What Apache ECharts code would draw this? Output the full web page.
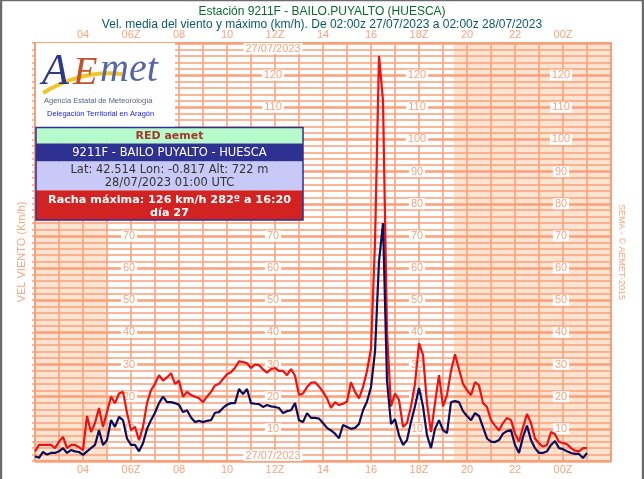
<!DOCTYPE html>
<html>
<head>
<meta charset="utf-8">
<title>Bailo Puyalto - viento</title>
<script src="https://cdn.jsdelivr.net/npm/echarts@6/dist/echarts.min.js"></script>
<style>
  html, body { margin: 0; padding: 0; background: #fff; }
  #chart { width: 644px; height: 479px; }
</style>
</head>
<body>
<div id="chart"></div>
<script>
// 10-minute data from 02:00z 27/07/2023 to 01:00z 28/07/2023 (km/h)
const startHour = 2;
const stepMinutes = 10;

const gustMax = [
  3, 5, 5, 5, 5, 4, 6, 7.5, 4, 5, 5, 4.3, 3.4,
  14, 9, 11.8, 16.5, 10.6, 15.2, 20, 18, 21, 21.5, 15, 9.6, 10.6, 6.5, 10.6,
  18, 22, 24, 26.7, 25, 26, 27.3, 24, 25, 20, 21.5, 20.5, 20, 19.5, 18.3, 20, 21.5, 23.5, 24, 25.5, 27, 27.6, 29,
  31, 30.8, 30.4, 28.9, 30, 29.8, 28.5, 27.5, 28.6, 28.9, 28, 28, 26.7, 28.6, 26.5, 20.5, 21, 23, 24.3, 24.5,
  23.2, 21.5, 19.5, 16.5, 18.3, 17.4, 17.8, 18.5, 24.5, 21.5, 19.5, 23, 28, 35, 68,
  126, 112, 40, 17, 21, 19, 10.6, 11.8, 17, 24, 36.6, 33, 18, 9, 18, 26.7, 17, 20.5, 28, 33.2,
  28.5, 24, 22, 20.5, 24.5, 23.5, 18, 16.8, 12.7, 11, 9.5, 11.8, 13.4, 12.7, 8.5, 6, 10.5, 14.6, 11.8, 7,
  5.5, 4.5, 5, 9, 8.3, 5.9, 5.6, 5.2, 4, 3.2, 3, 4, 4
];

const windMean = [
  1.5, 1, 2.8, 2, 2.5, 2.5, 3, 4, 2.5, 3.4, 3, 2.8, 1.9,
  3, 4, 5, 9.6, 5, 6.5, 12.7, 10.6, 13.7, 12.7, 7, 5, 5, 3, 5.5,
  10, 12.7, 15, 18, 20, 18.3, 18.3, 18, 17.5, 15.2, 15.8, 13.5, 12.1, 12.5, 12.1, 12.5, 12.7, 15, 15.2, 16.5, 17.5, 18, 18,
  22.4, 20.8, 22.4, 18, 17.8, 17.7, 16.8, 17.4, 17, 16.8, 16.5, 14.9, 15.5, 15.8, 18, 12.7, 12.1, 14.9, 13.4, 13.4,
  13.2, 11.8, 10.3, 9.5, 8.5, 7.1, 11.2, 10.6, 10, 10.3, 11.5, 15.8, 18.5, 23, 34,
  62, 74, 25, 11.5, 13, 8, 5, 6.5, 12.1, 17, 22.7, 17, 8, 4, 10, 12.7, 9.6, 8.7, 18.3, 18.6,
  18.3, 15.5, 14, 12.7, 14.9, 14, 10.5, 7, 6, 5.9, 6.5, 8.5, 9.3, 9.6, 5, 2.5, 7.5, 11, 6.5, 4,
  2.5, 2.5, 3, 5, 6.2, 4, 3.7, 3, 2.5, 2.2, 2.2, 0.9, 2.5
];

// night shading, hours after 02:00
const nightSpans = [[0, 3], [17.45, 24]];
// columns of speed labels inside the plot: 06Z, 12Z, 18Z, 00Z (hours after 02:00)
const labelColumns = [4, 10, 16, 22];
const dateLabel = '27/07/2023';

const gridColor = '#fa9f78';
const labelColor = '#f8a47f';
const nightColor = '#fce4d2';
const gridLeft = 35, gridRight = 33, chartWidth = 644;
const pxPerHour = (chartWidth - gridLeft - gridRight) / 24;

function pad2(n) { return (n < 10 ? '0' : '') + n; }

function hourLabel(v) {
  if (v <= 0 || v >= 24 || v % 2 !== 0) return '';
  let h = (startHour + v) % 24;
  return pad2(h) + (h % 6 === 0 ? 'Z' : '');
}

function toPairs(values) {
  return values.map((v, i) => [i * stepMinutes / 60, v]);
}

let chartDom = document.getElementById('chart');
let myChart = echarts.init(chartDom);

const xAxisBase = {
  type: 'value',
  min: 0,
  max: 24,
  interval: 1,
  z: 2,
  axisLine: { show: true, onZero: false, lineStyle: { color: gridColor, width: 2 } },
  axisTick: { show: false },
  axisLabel: {
    color: labelColor,
    fontSize: 11,
    fontFamily: 'Liberation Sans',
    margin: 3,
    formatter: hourLabel
  }
};

let yAxes = [
  {
    type: 'value',
    position: 'left',
    min: 0,
    max: 130,
    interval: 10,
    z: 2,
    name: 'VEL VIENTO (Km/h)',
    nameLocation: 'middle',
    nameGap: 8,
    nameTextStyle: { color: labelColor, fontSize: 11, fontFamily: 'Liberation Sans' },
    axisLine: { show: true, onZero: false, lineStyle: { color: gridColor, width: 2 } },
    axisTick: { show: true, length: 3, lineStyle: { color: gridColor, width: 1.5 } },
    minorTick: { show: true, splitNumber: 5, length: 3, lineStyle: { color: gridColor, width: 1.5 } },
    axisLabel: { show: false },
    splitLine: { show: true, lineStyle: { color: gridColor, width: 2.5 } },
    minorSplitLine: { show: true, lineStyle: { color: gridColor, width: 1.5 } }
  },
  {
    type: 'value',
    position: 'right',
    min: 0,
    max: 130,
    interval: 10,
    z: 2,
    name: 'SEMA - © AEMET-2015',
    nameLocation: 'middle',
    nameRotate: -90,
    nameGap: 6,
    nameTextStyle: { color: labelColor, fontSize: 9, fontFamily: 'Liberation Sans' },
    axisLine: { show: true, onZero: false, lineStyle: { color: gridColor, width: 2 } },
    axisTick: { show: false },
    axisLabel: { show: false },
    splitLine: { show: false }
  }
];

labelColumns.forEach((h) => {
  let withDate = (h === 10);
  yAxes.push({
    type: 'value',
    position: 'left',
    offset: -h * pxPerHour,
    min: 0,
    max: 130,
    interval: 10,
    z: 2,
    axisLine: { show: false },
    axisTick: { show: false },
    splitLine: { show: false },
    axisLabel: {
      show: true,
      align: 'center',
      margin: 2,
      color: labelColor,
      fontSize: 11,
      fontFamily: 'Liberation Sans',
      backgroundColor: '#fff',
      padding: [0, 2],
      verticalAlignMinLabel: 'bottom',
      verticalAlignMaxLabel: 'top',
      formatter: function (v) {
        if (v === 0 || v === 130) return withDate ? dateLabel : '';
        return String(v);
      }
    }
  });
});

const font = 'DejaVu Sans';
const box = { x: 36, y: 127.5, w: 267 };
const boxCx = box.x + box.w / 2;

let graphics = [
  // frame of the picture
  { type: 'rect', z: 100, shape: { x: 0, y: 0, width: 644, height: 1.2 }, style: { fill: '#6b6b6b' } },
  { type: 'rect', z: 100, shape: { x: 0, y: 0, width: 2.2, height: 479 }, style: { fill: '#6b6b6b' } },
  { type: 'rect', z: 100, shape: { x: 641.8, y: 0, width: 2.2, height: 479 }, style: { fill: '#6b6b6b' } },
  // logo
  { type: 'rect', z: 100, shape: { x: 36, y: 43, width: 139, height: 84.5 }, style: { fill: '#fff' } },
  { type: 'bezierCurve', z: 101, shape: { x1: 43, y1: 93, cpx1: 68, cpy1: 78, cpx2: 95, cpy2: 71, x2: 122, y2: 74 },
    style: { stroke: '#f2c62a', lineWidth: 4, fill: null } },
  { type: 'text', z: 102, x: 42, y: 50, style: { text: 'A', font: 'italic 44px "Liberation Serif"', fill: '#2d3b86' } },
  { type: 'text', z: 102, x: 73, y: 53, style: { text: 'E', font: 'italic 40px "Liberation Serif"', fill: '#c1532c' } },
  { type: 'text', z: 102, x: 100, y: 50, style: { text: 'met', font: 'italic 40px "Liberation Serif"', fill: '#5865a5' } },
  { type: 'text', z: 102, x: 44, y: 97, style: { text: 'Agencia Estatal de Meteorología', font: '7.5px "Liberation Sans"', fill: '#56617c' } },
  { type: 'text', z: 102, x: 47, y: 110, style: { text: 'Delegación Territorial en Aragón', font: '7.5px "Liberation Sans"', fill: '#1a1aff' } },
  // station box
  { type: 'rect', z: 100, shape: { x: box.x, y: 127.5, width: box.w, height: 16 }, style: { fill: '#b5fbcb' } },
  { type: 'rect', z: 100, shape: { x: box.x, y: 143.5, width: box.w, height: 18 }, style: { fill: '#2e3192' } },
  { type: 'rect', z: 100, shape: { x: box.x, y: 161.5, width: box.w, height: 29 }, style: { fill: '#c9c9f7' } },
  { type: 'rect', z: 100, shape: { x: box.x, y: 190.5, width: box.w, height: 29.5 }, style: { fill: '#d22222' } },
  { type: 'rect', z: 101, shape: { x: box.x, y: 127.5, width: box.w, height: 92.5 }, style: { fill: null, stroke: '#2e3192', lineWidth: 1.5 } },
  { type: 'text', z: 102, x: boxCx, y: 136, style: { text: 'RED aemet', font: 'bold 11px "' + font + '"', fill: '#a4372b', align: 'center', verticalAlign: 'middle' } },
  { type: 'text', z: 102, x: boxCx, y: 152.7, style: { text: '9211F - BAILO PUYALTO - HUESCA', font: '11.5px "' + font + '"', fill: '#fff', align: 'center', verticalAlign: 'middle' } },
  { type: 'text', z: 102, x: boxCx, y: 170, style: { text: 'Lat: 42.514 Lon: -0.817 Alt: 722 m', font: '11.5px "' + font + '"', fill: '#333', align: 'center', verticalAlign: 'middle' } },
  { type: 'text', z: 102, x: boxCx, y: 183.3, style: { text: '28/07/2023 01:00 UTC', font: '11.5px "' + font + '"', fill: '#333', align: 'center', verticalAlign: 'middle' } },
  { type: 'text', z: 102, x: boxCx, y: 200, style: { text: 'Racha máxima: 126 km/h 282º a 16:20', font: 'bold 11.2px "' + font + '"', fill: '#fff', align: 'center', verticalAlign: 'middle' } },
  { type: 'text', z: 102, x: boxCx, y: 212.7, style: { text: 'día 27', font: 'bold 11.2px "' + font + '"', fill: '#fff', align: 'center', verticalAlign: 'middle' } }
];

let option = {
  animation: false,
  backgroundColor: '#fff',
  title: {
    text: 'Estación 9211F - BAILO.PUYALTO (HUESCA)',
    subtext: 'Vel. media del viento y máximo (km/h). De 02:00z 27/07/2023 a 02:00z 28/07/2023',
    left: 'center',
    top: 4,
    itemGap: 0,
    padding: [1, 0, 0, 0],
    textStyle: { color: '#0b6a2f', fontSize: 12, lineHeight: 13, fontWeight: 'normal', fontFamily: 'Liberation Sans' },
    subtextStyle: { color: '#0c5b64', fontSize: 12, lineHeight: 13, fontFamily: 'Liberation Sans' }
  },
  grid: {
    left: gridLeft,
    right: gridRight,
    top: 43,
    bottom: 18,
    show: true,
    backgroundColor: '#fff',
    borderWidth: 0
  },
  xAxis: [
    { ...xAxisBase, position: 'bottom', splitLine: { show: true, lineStyle: { color: gridColor, width: 1.5 } } },
    { ...xAxisBase, position: 'top', splitLine: { show: false } }
  ],
  yAxis: yAxes,
  graphic: graphics,
  series: [
    {
      name: 'Racha máxima',
      type: 'line',
      z: 3,
      symbol: 'none',
      lineStyle: { color: '#ee1111', width: 2.2 },
      data: toPairs(gustMax)
    },
    {
      name: 'Velocidad media',
      type: 'line',
      z: 4,
      symbol: 'none',
      lineStyle: { color: '#0d0d5e', width: 2.2 },
      data: toPairs(windMean),
      markArea: {
        silent: true,
        itemStyle: { color: nightColor },
        data: nightSpans.map(s => [{ xAxis: s[0] }, { xAxis: s[1] }])
      }
    }
  ]
};

option && myChart.setOption(option);
</script>
</body>
</html>
